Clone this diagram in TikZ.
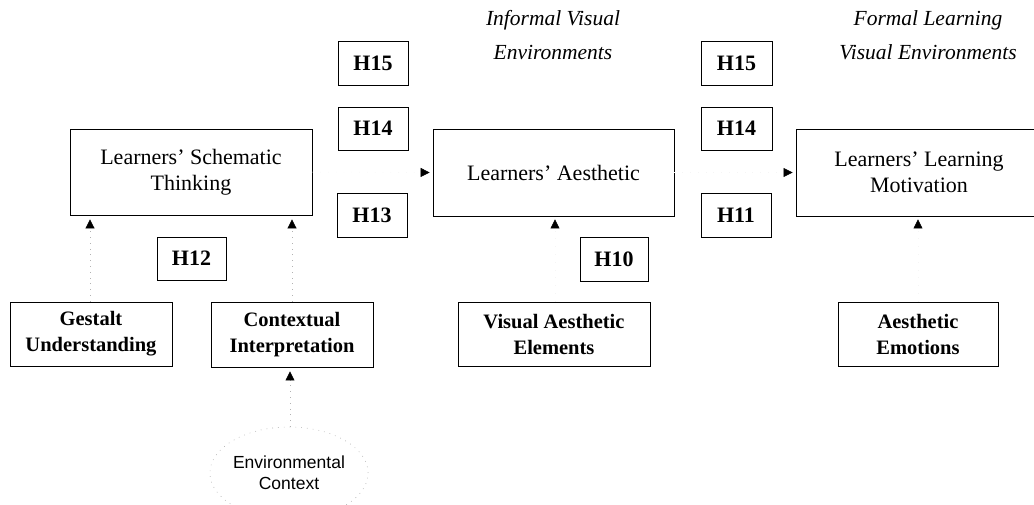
\documentclass[tikz,border=0pt]{standalone}
\usepackage{fontspec}
\setmainfont{Liberation Serif}
\newfontfamily\labelsans{Liberation Sans}
\usetikzlibrary{arrows.meta,shapes.geometric}

\tikzset{
  mainbox/.style={draw, line width=0.8pt, align=center, inner sep=0pt,
    font=\fontsize{22}{26.5}\selectfont},
  hbox/.style={draw, line width=0.8pt, inner sep=0pt,
    minimum width=70pt, minimum height=44pt,
    font=\fontsize{22}{26}\selectfont\bfseries},
  factorbox/.style={draw, line width=0.9pt, align=center, inner sep=0pt,
    minimum height=64pt, font=\fontsize{20.5}{26}\selectfont\bfseries},
  title/.style={align=center, inner sep=0pt,
    font=\fontsize{21.5}{34}\selectfont\itshape},
  link/.style={draw=gray!60, line width=0.7pt, dash pattern=on 0.8pt off 5pt,
    -{Triangle[width=9pt,length=9pt,black]}, shorten >=4pt},
  faintlink/.style={draw=gray!8, line width=0.5pt, dash pattern=on 0.8pt off 7pt,
    -{Triangle[width=9pt,length=9pt,black]}, shorten >=3pt}
}

\begin{document}
\begin{tikzpicture}[x=1pt,y=-1pt]
\useasboundingbox (0,0) rectangle (1034,504);
\clip (0,0) rectangle (1034,504);

% outcome boxes
\node[mainbox, minimum width=242pt, minimum height=86pt] (schema) at (191,172)
  {Learners' Schematic\\Thinking};
\node[mainbox, minimum width=241pt, minimum height=87pt] (aesth) at (553.5,172.5)
  {Learners' Aesthetic};
\node[mainbox, minimum width=246pt, minimum height=87pt] (motiv) at (919,172.5)
  {Learners' Learning\\Motivation};

% setting titles
\node[title] (informal) at (553,35) {Informal Visual\\Environments};
\node[title] (formal) at (928,35) {Formal Learning\\Visual Environments};

% hypothesis labels
\node[hbox] (h15a) at (373,63) {H15};
\node[hbox, minimum height=43pt] (h14a) at (373,128.5) {H14};
\node[hbox] (h13) at (372,215) {H13};
\node[hbox, minimum width=71pt] (h15b) at (736.5,63) {H15};
\node[hbox, minimum width=71pt, minimum height=43pt] (h14b) at (736.5,128.5) {H14};
\node[hbox] (h11) at (736,215) {H11};
\node[hbox, minimum width=69pt, minimum height=43pt] (h12) at (191.5,258.5) {H12};
\node[hbox, minimum width=68pt] (h10) at (614,259) {H10};

% antecedent factors
\node[factorbox, minimum width=162pt] (gestalt) at (91,334) {Gestalt\\Understanding};
\node[factorbox, minimum width=162pt, minimum height=65pt] (context) at (292,334.5)
  {Contextual\\Interpretation};
\node[factorbox, minimum width=192pt] (visual) at (554,334) {Visual Aesthetic\\Elements};
\node[factorbox, minimum width=160pt] (emotion) at (918,334) {Aesthetic\\Emotions};

% environmental context
\node[ellipse, draw=gray!60, line width=0.6pt, dash pattern=on 0.8pt off 5pt,
  minimum width=158pt, minimum height=92pt, inner sep=0pt, align=center,
  font=\labelsans\fontsize{17.5}{21}\selectfont] (env) at (289,473)
  {Environmental\\Context};

% connectors
\draw[link] ([xshift=-1pt]gestalt.north) -- ([xshift=-1pt]gestalt.north |- schema.south);
\draw[link] (context.north) -- (context.north |- schema.south);
\draw[link] ([xshift=1pt]env.north) -- ([xshift=1pt]env.north |- context.south);
\draw[faintlink] (schema.east) -- (aesth.west);
\draw[faintlink] (aesth.east) -- (motiv.west);
\draw[faintlink] ([xshift=1pt]visual.north) -- ([xshift=1pt]visual.north |- aesth.south);
\draw[faintlink] (emotion.north) -- (emotion.north |- motiv.south);
\end{tikzpicture}
\end{document}
